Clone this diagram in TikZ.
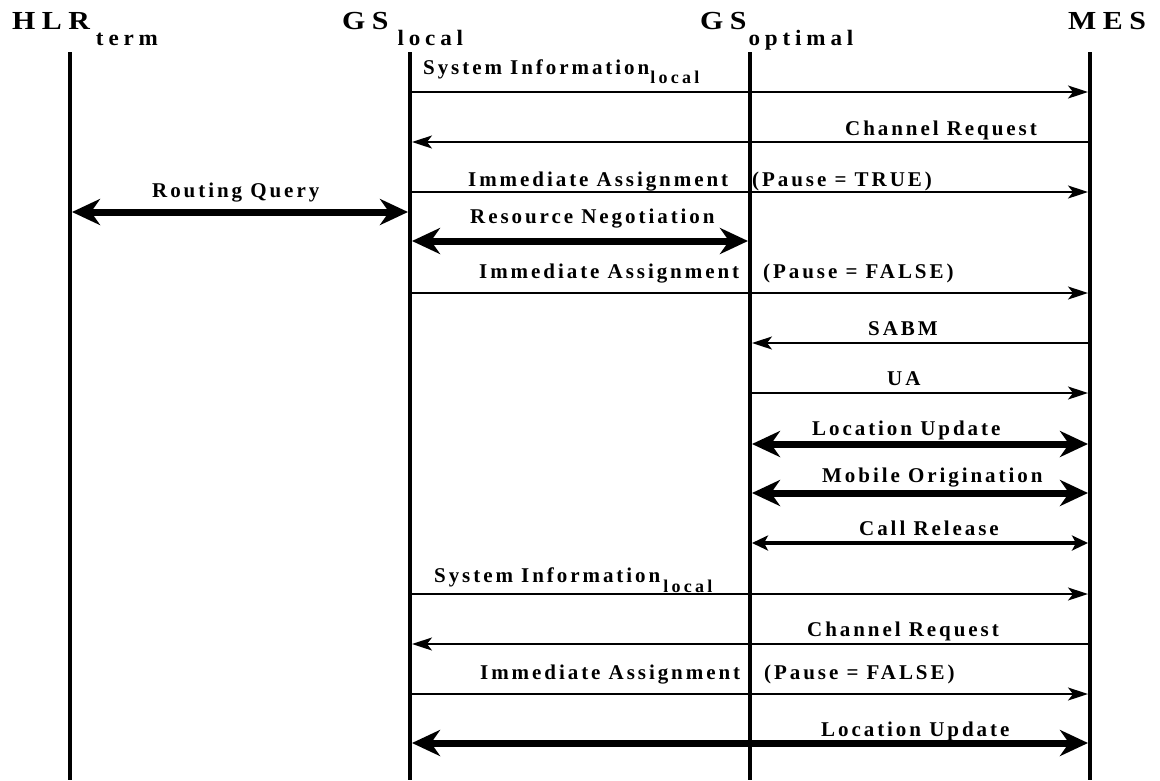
\documentclass[tikz,border=0pt]{standalone}
\usepackage{fontspec}
\setmainfont{Liberation Serif}
\newfontfamily\hdfamily[LetterSpace=25,FakeStretch=1.15]{Liberation Serif}
\newfontfamily\hsfamily[LetterSpace=22,FakeStretch=1.05]{Liberation Serif}
\newfontfamily\lbfamily[LetterSpace=14]{Liberation Serif}
\newfontfamily\lsfamily[LetterSpace=18]{Liberation Serif}
\newcommand\hdmain{\fontsize{26}{28}\selectfont\hdfamily\bfseries}
\newcommand\hdsub{\fontsize{22}{24}\selectfont\hsfamily\bfseries}
\newcommand\lbmain{\fontsize{21}{23}\selectfont\lbfamily\bfseries}
\newcommand\lbsub{\fontsize{18}{20}\selectfont\lsfamily\bfseries}
\newcommand\hdr[3][1pt]{{\hdmain #2}\hspace{#1}\raisebox{-16pt}{\hdsub #3}}
\newcommand\pauselbl[1]{\makebox[284pt][l]{Immediate Assignment}(Pause = #1)}
\usetikzlibrary{arrows.meta}
\begin{document}
\begin{tikzpicture}[x=1pt,y=-1pt,
  lifeline/.style={line width=4pt,black},
  hdr/.style={anchor=base west,inner sep=0pt,font=\hdmain},
  lbl/.style={anchor=base west,inner sep=0pt,font=\lbmain},
  thinmsg/.style={line width=1.6pt,shorten >=2pt,shorten <=2pt,
    -{Stealth[length=20pt,width=13pt,inset=5pt]}},
  thickmsg/.style={line width=7pt,shorten >=2pt,shorten <=2pt,
    {Stealth[length=28pt,width=26pt,inset=9pt]}-{Stealth[length=28pt,width=26pt,inset=9pt]}},
  medmsg/.style={line width=3.5pt,shorten >=2pt,shorten <=2pt,
    {Stealth[length=16pt,width=15pt,inset=4pt]}-{Stealth[length=16pt,width=15pt,inset=4pt]}}
]
\useasboundingbox (0,0) rectangle (1160,780);
% lifeline ends
\coordinate (hlr) at (70,52);   \coordinate (hlrB) at (70,780);
\coordinate (gsl) at (410,52);  \coordinate (gslB) at (410,780);
\coordinate (gso) at (750,52);  \coordinate (gsoB) at (750,780);
\coordinate (mes) at (1090,52); \coordinate (mesB) at (1090,780);
% headers
\node[hdr] (hHLR) at (12,29) {\hdr[6pt]{HLR}{term}};
\node[hdr] (hGSL) at (342,29) {\hdr[9pt]{GS}{local}};
\node[hdr] (hGSO) at (700,29) {\hdr[2pt]{GS}{optimal}};
\node[hdr] (hMES) at (1068,29) {MES};
% messages
\draw[thinmsg] (gsl |- 0,92) -- (mes |- 0,92);
\node[lbl] (l1) at (423,74) {System Information\hspace{1pt}\raisebox{-9pt}{\lbsub local}};
\draw[thinmsg] (mes |- 0,142) -- (gsl |- 0,142);
\node[lbl] (l2) at (845,135) {Channel Request};
\draw[thinmsg] (gsl |- 0,192) -- (mes |- 0,192);
\node[lbl] (l3) at (468,186) {\pauselbl{TRUE}};
\draw[thickmsg] (hlr |- 0,212) -- (gsl |- 0,212);
\node[lbl] (l4) at (152,197) {Routing Query};
\draw[thickmsg] (gsl |- 0,241) -- (gso |- 0,241);
\node[lbl] (l5) at (470,223) {Resource Negotiation};
\draw[thinmsg] (gsl |- 0,293) -- (mes |- 0,293);
\node[lbl] (l6) at (479,278) {\pauselbl{FALSE}};
\draw[thinmsg] (mes |- 0,343) -- (gso |- 0,343);
\node[lbl] (l7) at (868,335) {SABM};
\draw[thinmsg] (gso |- 0,393) -- (mes |- 0,393);
\node[lbl] (l8) at (887,385) {UA};
\draw[thickmsg] (gso |- 0,444) -- (mes |- 0,444);
\node[lbl] (l9) at (812,435) {Location Update};
\draw[thickmsg] (gso |- 0,493) -- (mes |- 0,493);
\node[lbl] (l10) at (822,482) {Mobile Origination};
\draw[medmsg] (gso |- 0,543) -- (mes |- 0,543);
\node[lbl] (l11) at (859,535) {Call Release};
\draw[thinmsg] (gsl |- 0,594) -- (mes |- 0,594);
\node[lbl] (l12) at (434,582) {System Information\hspace{3pt}\raisebox{-10pt}{\lbsub local}};
\draw[thinmsg] (mes |- 0,644) -- (gsl |- 0,644);
\node[lbl] (l13) at (807,636) {Channel Request};
\draw[thinmsg] (gsl |- 0,694) -- (mes |- 0,694);
\node[lbl] (l14) at (480,679) {\pauselbl{FALSE}};
\draw[thickmsg] (gsl |- 0,743) -- (mes |- 0,743);
\node[lbl] (l15) at (821,736) {Location Update};
% lifelines on top
\draw[lifeline] (hlr) -- (hlrB);
\draw[lifeline] (gsl) -- (gslB);
\draw[lifeline] (gso) -- (gsoB);
\draw[lifeline] (mes) -- (mesB);
\end{tikzpicture}
\end{document}
